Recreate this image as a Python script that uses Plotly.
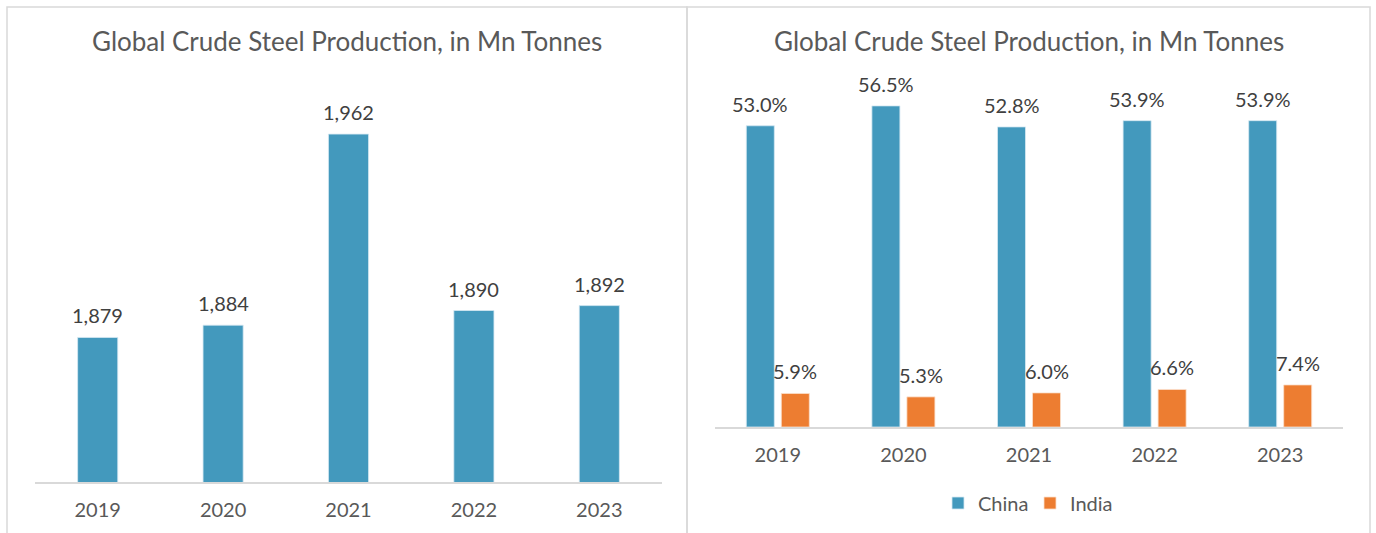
import plotly.graph_objects as go

years = ["2019", "2020", "2021", "2022", "2023"]
global_production = [1879, 1884, 1962, 1890, 1892]
global_labels = ["1,879", "1,884", "1,962", "1,890", "1,892"]
china_share = [53.0, 56.5, 52.8, 53.9, 53.9]
india_share = [5.9, 5.3, 6.0, 6.6, 7.4]

title_text = "Global Crude Steel Production, in Mn Tonnes"

W, H = 1376, 533
BLUE = "#4399BD"
ORANGE = "#ED7D31"
FONT = "Lato"

def px(x):
    return x / W

def py(y):
    return (H - y) / H

fig = go.Figure()

# Left chart
fig.add_trace(go.Bar(
    x=years, y=global_production,
    width=0.32, marker=dict(color=BLUE, line=dict(color="#D6E9F2", width=0.8)),
    xaxis="x", yaxis="y", showlegend=False, hoverinfo="x+y",
))

# Right chart
fig.add_trace(go.Bar(
    x=years, y=china_share, name="China",
    width=0.223, offset=-0.2508,
    marker=dict(color=BLUE, line=dict(color="#D6E9F2", width=0.8)),
    xaxis="x2", yaxis="y2",
))
fig.add_trace(go.Bar(
    x=years, y=india_share, name="India",
    width=0.223, offset=0.0279,
    marker=dict(color=ORANGE, line=dict(color="#FBE0CC", width=0.8)),
    xaxis="x2", yaxis="y2",
))

annotations = []
lab_font = dict(family=FONT, size=20, color="#404040")
# category axes: annotation x is the category's serial index
for i, (v, t) in enumerate(zip(global_production, global_labels)):
    annotations.append(dict(x=i, y=v, xref="x", yref="y", text=t, showarrow=False,
                            yanchor="bottom", yshift=8, font=lab_font))
for i, v in enumerate(china_share):
    annotations.append(dict(x=i, y=v, xref="x2", yref="y2", text=f"{v:.1f}%", showarrow=False,
                            yanchor="bottom", yshift=8, xshift=-17.5, font=lab_font))
for i, v in enumerate(india_share):
    annotations.append(dict(x=i, y=v, xref="x2", yref="y2", text=f"{v:.1f}%", showarrow=False,
                            yanchor="bottom", yshift=8, xshift=17.5, font=lab_font))

title_font = dict(family=FONT, size=26, color="#595959")
annotations.append(dict(x=px(347), y=py(41), xref="paper", yref="paper", text=title_text,
                        showarrow=False, xanchor="center", yanchor="middle", font=title_font))
annotations.append(dict(x=px(1029), y=py(41), xref="paper", yref="paper", text=title_text,
                        showarrow=False, xanchor="center", yanchor="middle", font=title_font))

border = dict(color="#D9D9D9", width=1.5)
shapes = [
    dict(type="rect", xref="paper", yref="paper", x0=px(7), x1=px(687), y0=-0.05, y1=py(7), line=border),
    dict(type="rect", xref="paper", yref="paper", x0=px(687), x1=px(1370), y0=-0.05, y1=py(7), line=border),
]

tick_font = dict(family=FONT, size=20, color="#595959")
xcommon = dict(type="category", range=[-0.5, 4.5], autorange=False, showline=True,
               linecolor="#D9D9D9", linewidth=1.5,
               ticks="", showgrid=False, zeroline=False, tickfont=tick_font, ticklabelstandoff=9)

fig.update_layout(
    width=W, height=H, autosize=False,
    margin=dict(l=0, r=0, t=0, b=0),
    paper_bgcolor="white", plot_bgcolor="white",
    barmode="overlay",
    font=dict(family=FONT),
    xaxis=dict(domain=[px(35), px(662)], anchor="y", **xcommon),
    yaxis=dict(domain=[py(482), py(90)], anchor="x", range=[1820, 1980], visible=False),
    xaxis2=dict(domain=[px(715), px(1343)], anchor="y2", **xcommon),
    yaxis2=dict(domain=[py(427), py(86)], anchor="x2", range=[0, 60], visible=False),
    legend=dict(orientation="h", x=px(938), y=py(503), xanchor="left", yanchor="middle",
                font=dict(family=FONT, size=20, color="#595959"), bgcolor="rgba(0,0,0,0)",
                itemwidth=30, traceorder="normal", entrywidth=47, entrywidthmode="pixels"),
    annotations=annotations,
    shapes=shapes,
)

fig.write_html("out.html", config={"displayModeBar": False},
               post_script="document.body.style.margin='0px';document.body.style.overflow='hidden';")
